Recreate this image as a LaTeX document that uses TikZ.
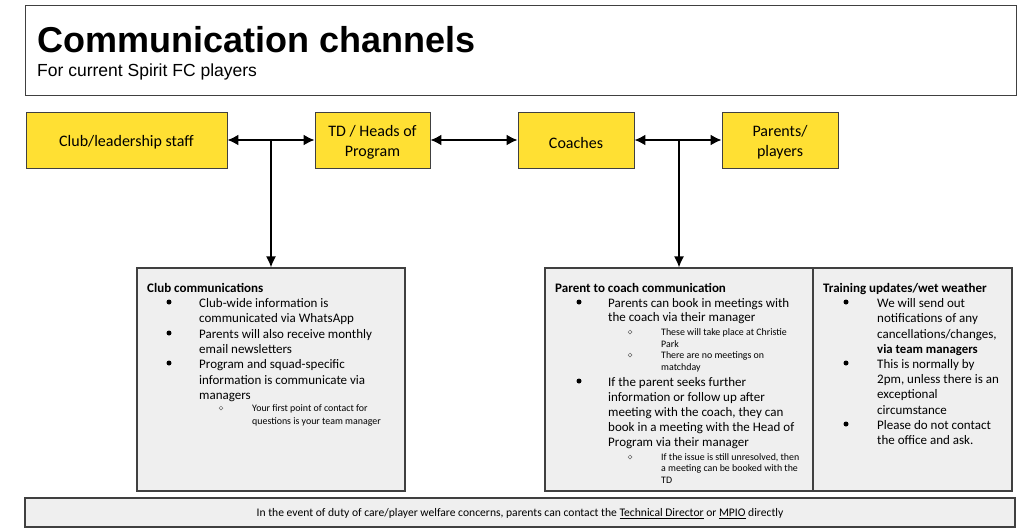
\documentclass[tikz,border=0pt]{standalone}
\usepackage{fontspec}
\setmainfont{Carlito}
\newfontfamily\titlefont{Liberation Sans}
\usetikzlibrary{arrows.meta,calc}
\definecolor{yellowc}{HTML}{FFE033}
\definecolor{gfill}{HTML}{EFEFEF}
\definecolor{bord}{HTML}{404040}
\begin{document}
\begin{tikzpicture}[x=1pt,y=-1pt,
  ybox/.style={draw=bord, line width=0.8pt, fill=yellowc, inner sep=0pt, minimum height=56pt, align=center, font=\fontsize{16}{20}\selectfont},
  gbox/.style={draw=bord, line width=1.1pt, fill=gfill, inner sep=0pt, minimum height=223pt},
  arr/.style={line width=2pt, {Latex[length=11pt,width=11pt]}-{Latex[length=11pt,width=11pt]}},
  varr/.style={line width=1.6pt, -{Latex[length=11pt,width=10pt]}},
  txt/.style={anchor=base west, inner sep=0pt, font=\fontsize{13}{15}\selectfont},
  sm/.style={anchor=base west, inner sep=0pt, font=\fontsize{9.9}{12}\selectfont},
  hd/.style={anchor=base west, inner sep=0pt, font=\bfseries\fontsize{13}{15}\selectfont},
  dot/.style={circle, fill=black, inner sep=0pt, minimum size=5pt},
  odot/.style={circle, draw=black!60, line width=0.5pt, inner sep=0pt, minimum size=3.8pt}]
\useasboundingbox (0,0) rectangle (1024,531);
\fill[white] (0,0) rectangle (1024,531);

% title box
\node[draw=bord, line width=0.8pt, fill=white, minimum width=991pt, minimum height=90pt, inner sep=0pt] (tbox) at (520.5,50) {};
\node[anchor=base west, inner sep=0pt, font=\titlefont\bfseries\fontsize{36}{40}\selectfont] (title) at (37,52) {Communication channels};
\node[anchor=base west, inner sep=0pt, font=\titlefont\fontsize{17.5}{20}\selectfont] (subtitle) at (37,76) {For current Spirit FC players};

% yellow boxes
\node[ybox, minimum width=201pt] (b1) at (126.5,140) {};
\node[ybox, minimum width=115pt] (b2) at (372.5,140) {};
\node[ybox, minimum width=116pt] (b3) at (576,140) {};
\node[ybox, minimum width=116pt] (b4) at (780,140) {};
\node[align=center, inner sep=0pt, font=\fontsize{16}{20}\selectfont, yshift=-2.5pt] (l1) at (b1.center) {Club/leadership staff};
\node[align=center, inner sep=0pt, font=\fontsize{16}{20}\selectfont, yshift=-2.5pt] (l2) at (b2.center) {TD / Heads of\\Program};
\node[align=center, inner sep=0pt, font=\fontsize{16}{20}\selectfont, yshift=-2.5pt] (l3) at (b3.center) {Coaches};
\node[align=center, inner sep=0pt, font=\fontsize{16}{20}\selectfont, yshift=-2.5pt] (l4) at (b4.center) {Parents/\\players};

% gray boxes
\node[gbox, minimum width=268pt] (g1) at (271,379.5) {};
\node[gbox, minimum width=268pt] (g2) at (679,379.5) {};
\node[gbox, minimum width=199pt] (g3) at (912.5,379.5) {};
\node[draw=bord, line width=1.1pt, fill=gfill, minimum width=990pt, minimum height=29pt, inner sep=0pt] (bot) at (520,512.5) {};

% arrows
\draw[arr] (b1.east) -- (b2.west);
\draw[arr] (b2.east) -- (b3.west);
\draw[arr] (b3.east) -- (b4.west);
\coordinate (j1) at (g1.north |- b1.east);
\coordinate (j2) at (g2.north |- b3.east);
\draw[varr] (j1) -- (g1.north);
\draw[varr] (j2) -- (g2.north);

% box 1
\node[hd] (h1) at (147,292.5) {Club communications};
\node[dot] (d11) at (169,302) {};
\node[txt] (t11) at (199,307.5) {Club-wide information is};
\node[txt] (t12) at (199,322.5) {communicated via WhatsApp};
\node[dot] (d12) at (169,333) {};
\node[txt] (t13) at (199,338.5) {Parents will also receive monthly};
\node[txt] (t14) at (199,353.5) {email newsletters};
\node[dot] (d13) at (169,363) {};
\node[txt] (t15) at (199,368.5) {Program and squad-specific};
\node[txt] (t16) at (199,384.5) {information is communicate via};
\node[txt] (t17) at (199,399.5) {managers};
\node[odot] (o11) at (221,408) {};
\node[sm] (s11) at (252,411.5) {Your first point of contact for};
\node[sm] (s12) at (252,424.5) {questions is your team manager};

% box 2
\node[hd] (h2) at (555,292.5) {Parent to coach communication};
\node[dot] (d21) at (579,302) {};
\node[txt] (t21) at (608,307.5) {Parents can book in meetings with};
\node[txt] (t22) at (608,321.5) {the coach via their manager};
\node[odot] (o21) at (630,332) {};
\node[sm] (s21) at (661,335.5) {These will take place at Christie};
\node[sm] (s22) at (661,347.5) {Park};
\node[odot] (o22) at (630,355) {};
\node[sm] (s23) at (661,358.5) {There are no meetings on};
\node[sm] (s24) at (661,370.5) {matchday};
\node[dot] (d22) at (579,381) {};
\node[txt] (t23) at (608,386.5) {If the parent seeks further};
\node[txt] (t24) at (608,401.5) {information or follow up after};
\node[txt] (t25) at (608,416.5) {meeting with the coach, they can};
\node[txt] (t26) at (608,431.5) {book in a meeting with the Head of};
\node[txt] (t27) at (608,446.5) {Program via their manager};
\node[odot] (o23) at (630,457) {};
\node[sm] (s25) at (661,460.5) {If the issue is still unresolved, then};
\node[sm] (s26) at (661,471.5) {a meeting can be booked with the};
\node[sm] (s27) at (661,483.5) {TD};

% box 3
\node[hd] (h3) at (823,292.5) {Training updates/wet weather};
\node[dot] (d31) at (846,302) {};
\node[txt] (t31) at (877,307.5) {We will send out};
\node[txt] (t32) at (877,322.5) {notifications of any};
\node[txt] (t33) at (877,338.5) {cancellations/changes,};
\node[txt, font=\bfseries\fontsize{12.8}{15}\selectfont] (t34) at (877,353.5) {via team managers};
\node[dot] (d32) at (846,363) {};
\node[txt] (t35) at (877,368.5) {This is normally by};
\node[txt] (t36) at (877,383.5) {2pm, unless there is an};
\node[txt] (t37) at (877,398.5) {exceptional};
\node[txt] (t38) at (877,414.5) {circumstance};
\node[dot] (d33) at (846,424) {};
\node[txt] (t39) at (877,429.5) {Please do not contact};
\node[txt] (t310) at (877,444.5) {the office and ask.};

% bottom text
\node[inner sep=0pt, font=\fontsize{11.6}{13}\selectfont, yshift=-1pt] (bt) at (bot.center) {In the event of duty of care/player welfare concerns, parents can contact the \underline{Technical Director} or \underline{MPIO} directly};
\end{tikzpicture}
\end{document}
